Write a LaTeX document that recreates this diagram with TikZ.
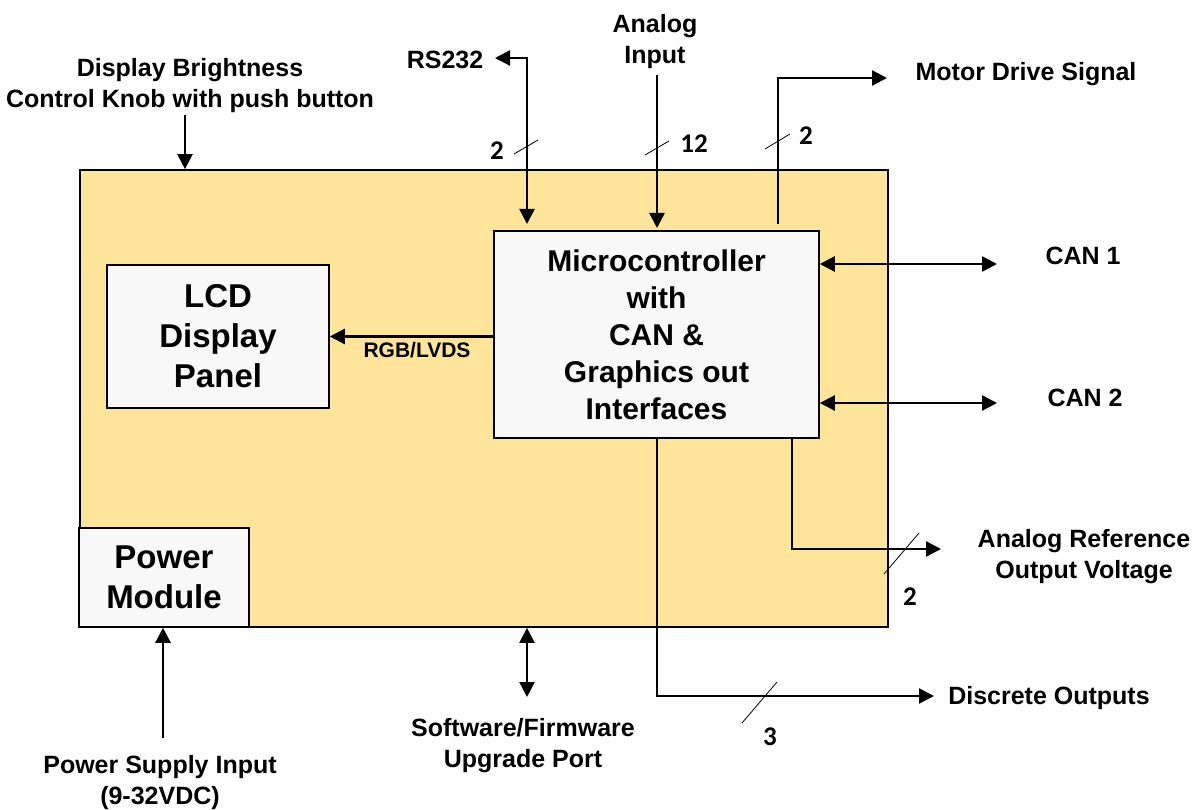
\documentclass[tikz,border=0pt]{standalone}
\usepackage{fontspec}
\setmainfont{Liberation Sans}
\newfontfamily\countfont{Carlito}
\usetikzlibrary{arrows.meta}

\definecolor{boardfill}{HTML}{FFE599}
\definecolor{blockfill}{HTML}{F8F8F8}

\begin{document}
\begin{tikzpicture}[x=1pt, y=-1pt,
  >={Triangle[length=15pt,width=15pt]},
  block/.style={draw, line width=1.6pt, fill=blockfill, align=center, inner sep=0pt},
  tag/.style={align=center, font=\fontsize{25}{31}\selectfont\bfseries},
  buswidth/.style={anchor=base, font=\fontsize{27}{27}\selectfont\countfont\bfseries},
  sig/.style={line width=2.4pt},
  slash/.style={line width=0.8pt}]

\useasboundingbox (0,0) rectangle (1204,810);

% Board and blocks
\node[draw, line width=1.8pt, fill=boardfill, minimum width=808pt, minimum height=457pt, inner sep=0pt] (board) at (484,398.5) {};
\node[block, minimum width=222pt, minimum height=143pt, font=\fontsize{33}{40}\selectfont\bfseries] (lcd) at (218,336.5) {LCD\\Display\\Panel};
\node[block, minimum width=325pt, minimum height=207pt, font=\fontsize{30}{37}\selectfont\bfseries] (micro) at (656.5,334.5) {Microcontroller\\with\\CAN \&\\Graphics out\\Interfaces};
\node[block, minimum width=170pt, minimum height=99pt, font=\fontsize{33}{40}\selectfont\bfseries] (power) at (164,577.5) {Power\\Module};

% Outside labels
\node[tag] (knob) at (190,85.5) {Display Brightness\\Control Knob with push button};
\node[tag, anchor=base] (rs232) at (445,69) {RS232};
\node[tag] (anin) at (655,41.5) {Analog\\Input};
\node[tag, anchor=base] (motor) at (1026,81) {Motor Drive Signal};
\node[tag, anchor=base] (can1) at (1083,265) {CAN 1};
\node[tag, anchor=base] (can2) at (1085,406) {CAN 2};
\node[tag] (aref) at (1084,557) {Analog Reference\\Output Voltage};
\node[tag, anchor=base] (disc) at (1049,704) {Discrete Outputs};
\node[tag] (swport) at (523,745.5) {Software/Firmware\\Upgrade Port};
\node[tag] (psin) at (160,783) {Power Supply Input\\(9-32VDC)};
\node[tag, anchor=base, font=\fontsize{21}{21}\selectfont\bfseries] (rgb) at (417,357) {RGB/LVDS};

% Connector ends
\coordinate (knobtop) at (185,115);
\coordinate (rsout) at (495,58);
\coordinate (rsin) at (527,224);
\coordinate (antop) at (657,75);
\coordinate (anend) at (657,228);
\coordinate (mdin) at (778,224);
\coordinate (mdout) at (887,78);
\coordinate (can1end) at (997,264);
\coordinate (can2end) at (997,403);
\coordinate (refx) at (792,549);
\coordinate (refend) at (941,549);
\coordinate (discend) at (934,696);
\coordinate (swend) at (527,697);
\coordinate (psbot) at (163,738);

% Connectors
\draw[sig, ->] (knobtop) -- (knobtop |- board.north);
\draw[sig, <->] (rsin) |- (rsout);
\draw[sig, ->] (antop) -- (anend);
\draw[sig, ->] (mdin) |- (mdout);
\draw[sig, <->] (micro.east |- can1end) -- (can1end);
\draw[sig, <->] (micro.east |- can2end) -- (can2end);
\draw[sig, ->] (micro.west |- lcd.east) -- (lcd.east);
\draw[sig, ->] (micro.south -| refx) |- (refend);
\draw[sig, ->] (micro.south -| anend) |- (discend);
\draw[sig, <->] (board.south -| swend) -- (swend);
\draw[sig, ->] (psbot) -- (psbot |- power.south);

% Bus widths
\draw[slash] (514,154) -- (538,140);
\node[buswidth] (nrs) at (497,160) {2};
\draw[slash] (645,155) -- (669,141);
\node[buswidth] (nan) at (694,153) {12};
\draw[slash] (765,149) -- (790,134);
\node[buswidth] (nmd) at (806,145) {2};
\draw[slash] (884,574) -- (919,533);
\node[buswidth] (nref) at (910,605) {2};
\draw[slash] (742,723) -- (777,682);
\node[buswidth] (ndisc) at (770,745) {3};

\end{tikzpicture}
\end{document}
